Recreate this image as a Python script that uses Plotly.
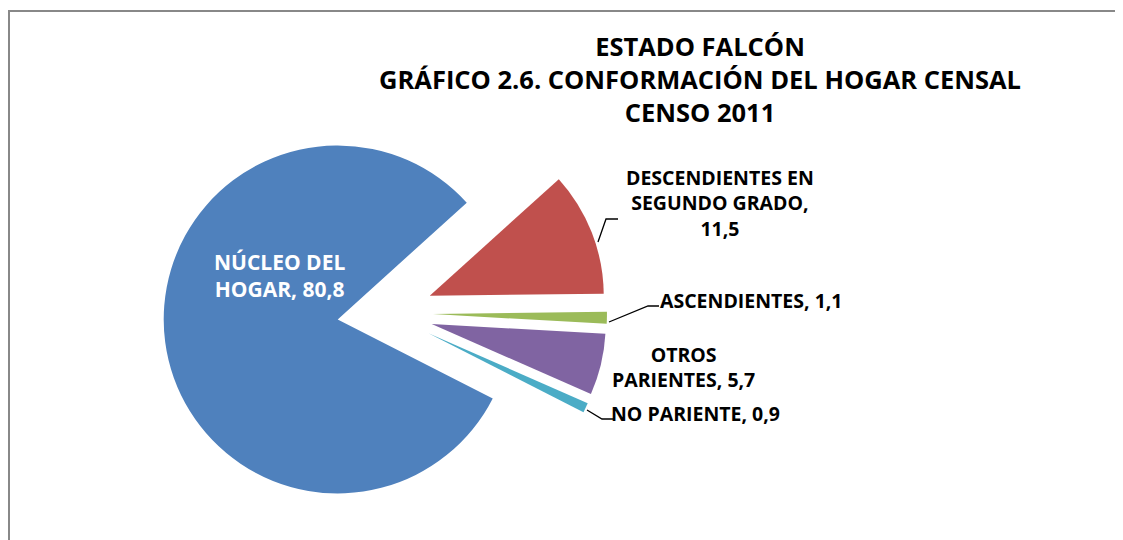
import plotly.graph_objects as go

# data
categorias = ["NÚCLEO DEL HOGAR", "DESCENDIENTES EN SEGUNDO GRADO", "ASCENDIENTES",
              "OTROS PARIENTES", "NO PARIENTE"]
valores = [80.8, 11.5, 1.1, 5.7, 0.9]
colores = ["#4F81BD", "#C0504D", "#9BBB59", "#8064A2", "#4BACC6"]
separacion = [0.28, 0.27, 0.27, 0.27, 0.27]

# page is offset by the default 8px body margin
OFF = 8
W, H = 1123 - OFF, 540 - OFF


def px(x, y):
    """page pixel -> paper coords"""
    return (x - OFF) / W, 1 - (y - OFF) / H


# pie box (page pixels) -> paper domain
cx, cy, R = 386, 313, 174
half = R * (1 + max(separacion))
x0, y1 = px(cx - half, cy - half)
x1, y0 = px(cx + half, cy + half)

fig = go.Figure()

fig.add_trace(go.Pie(
    labels=categorias,
    values=valores,
    sort=False,
    direction="clockwise",
    rotation=117,
    pull=separacion,
    marker=dict(colors=colores, line=dict(width=0)),
    textinfo="none",
    hoverinfo="label+value",
    domain=dict(x=[x0, x1], y=[y0, y1]),
))

fuente = "'Open Sans', Lato, sans-serif"


def fmt(v):
    return f"{v:.1f}".replace(".", ",")


# labels (text, center x, center y, color, size)
etiquetas = [
    (f"NÚCLEO DEL<br>HOGAR, {fmt(valores[0])}", 279, 275, "white", 21),
    (f"DESCENDIENTES EN<br>SEGUNDO GRADO,<br>{fmt(valores[1])}", 720, 203, "black", 19.5),
    (f"ASCENDIENTES, {fmt(valores[2])}", 751, 300, "black", 19.5),
    (f"OTROS<br>PARIENTES, {fmt(valores[3])}", 683, 367, "black", 19.5),
    (f"NO PARIENTE, {fmt(valores[4])}", 695, 413, "black", 19.5),
]
for txt, x, y, col, size in etiquetas:
    ax, ay = px(x, y)
    fig.add_annotation(x=ax, y=ay, xref="paper", yref="paper",
                       xanchor="center", yanchor="middle",
                       text=txt, showarrow=False, align="center",
                       font=dict(family=fuente, size=size, color=col, weight="bold"))

# leader lines
lineas = [
    [(598, 242), (606, 219), (618, 219)],
    [(609, 322), (648, 306), (659, 306)],
    [(587, 410), (602, 419), (614, 419)],
]
for pts in lineas:
    path = "M " + " L ".join("{},{}".format(*px(x, y)) for x, y in pts)
    fig.add_shape(type="path", path=path, xref="paper", yref="paper",
                  line=dict(color="black", width=1.3))

# title
tx, ty = px(700, 79)
fig.add_annotation(x=tx, y=ty, xref="paper", yref="paper",
                   xanchor="center", yanchor="middle",
                   text="ESTADO FALCÓN<br>GRÁFICO 2.6. CONFORMACIÓN DEL HOGAR CENSAL<br>CENSO 2011",
                   showarrow=False, align="center",
                   font=dict(family=fuente, size=25.5, color="black", weight="bold"))

# chart border
bx0, by1 = px(9, 11)
fig.add_shape(type="rect", xref="paper", yref="paper",
              x0=bx0, x1=1.02, y0=-0.05, y1=by1,
              line=dict(color="#888888", width=2))

fig.update_layout(
    width=W, height=H,
    showlegend=False,
    paper_bgcolor="white",
    plot_bgcolor="white",
    margin=dict(l=0, r=0, t=0, b=0),
)

fig.write_html("out.html")
